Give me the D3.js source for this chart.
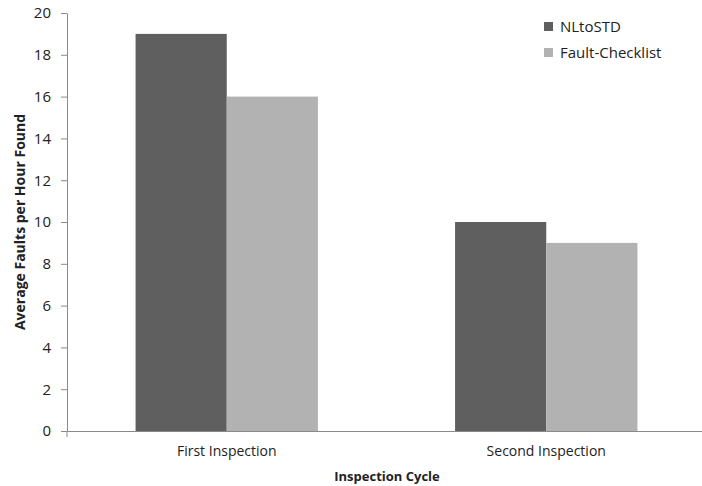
<!DOCTYPE html>
<html><head><meta charset="utf-8">
<script src="https://cdn.jsdelivr.net/npm/d3@7"></script>
<style>body{margin:0;background:#fff;} text{font-family:"Open Sans",sans-serif;}</style>
</head><body>
<svg id="c" width="702" height="486"></svg>
<script>
const categories = ["First Inspection", "Second Inspection"];
const seriesNames = ["NLtoSTD", "Fault-Checklist"];
const nltostd = [19, 10];
const faultChecklist = [16, 9];
const yTicks = [0, 2, 4, 6, 8, 10, 12, 14, 16, 18, 20];
const colors = ["#5f5f5f", "#b2b2b2"];

const svg = d3.select("#c");
const mLeft = 67, mRight = 706, mTop = 13, mBottom = 431;
const x0 = d3.scaleBand().domain(categories).range([mLeft, mRight]).paddingInner(0).paddingOuter(0);
const x1 = d3.scaleBand().domain(seriesNames).range([0, x0.bandwidth()]).paddingInner(0).paddingOuter(0.752);
const y = d3.scaleLinear().domain([0, 20]).range([mBottom, mTop]);

const data = categories.map((c, i) => ({cat: c, vals: [nltostd[i], faultChecklist[i]]}));

const g = svg.append("g");
g.selectAll("g.grp").data(data).join("g").attr("class","grp")
  .attr("transform", d => `translate(${x0(d.cat)},0)`)
  .selectAll("rect").data(d => d.vals.map((v, j) => ({s: seriesNames[j], v, j})))
  .join("rect")
  .attr("x", d => x1(d.s)).attr("width", x1.bandwidth())
  .attr("y", d => y(d.v)).attr("height", d => mBottom - y(d.v))
  .attr("fill", d => colors[d.j]);

// y axis
const ya = svg.append("g").attr("transform", `translate(${mLeft},0)`)
  .call(d3.axisLeft(y).tickValues(yTicks).tickSize(6).tickPadding(10).tickSizeOuter(0));
ya.select(".domain").attr("stroke", "#8a8a8a");
ya.selectAll(".tick line").attr("stroke", "#8a8a8a");
ya.selectAll(".tick text").attr("font-size", 15).attr("fill", "#222").attr("font-family","Open Sans");

// x axis
const xa = svg.append("g").attr("transform", `translate(0,${mBottom})`)
  .call(d3.axisBottom(x0).tickSize(0).tickPadding(15).tickSizeOuter(0));
xa.select(".domain").attr("stroke", "#8a8a8a");
xa.selectAll(".tick text").attr("font-size", 14).attr("fill", "#222").attr("font-family","Open Sans");
svg.append("line").attr("x1", mLeft).attr("x2", mLeft).attr("y1", mBottom).attr("y2", mBottom + 6).attr("stroke", "#8a8a8a");

// titles
svg.append("text").attr("x", 387).attr("y", 481).attr("text-anchor", "middle")
  .attr("font-size", 13).attr("font-weight", "bold").attr("fill", "#222").text("Inspection Cycle");
svg.append("text").attr("transform", "translate(25,222) rotate(-90)").attr("text-anchor", "middle")
  .attr("font-size", 14).attr("font-weight", "bold").attr("fill", "#222").text("Average Faults per Hour Found");

// legend
const lg = svg.append("g").attr("transform", "translate(544,22)");
seriesNames.forEach((s, i) => {
  lg.append("rect").attr("x", 0).attr("y", i * 26).attr("width", 9).attr("height", 9).attr("fill", colors[i]);
  lg.append("text").attr("x", 16).attr("y", i * 26 + 10).attr("font-size", 15).attr("fill", "#222").text(s);
});
</script>
</body></html>
